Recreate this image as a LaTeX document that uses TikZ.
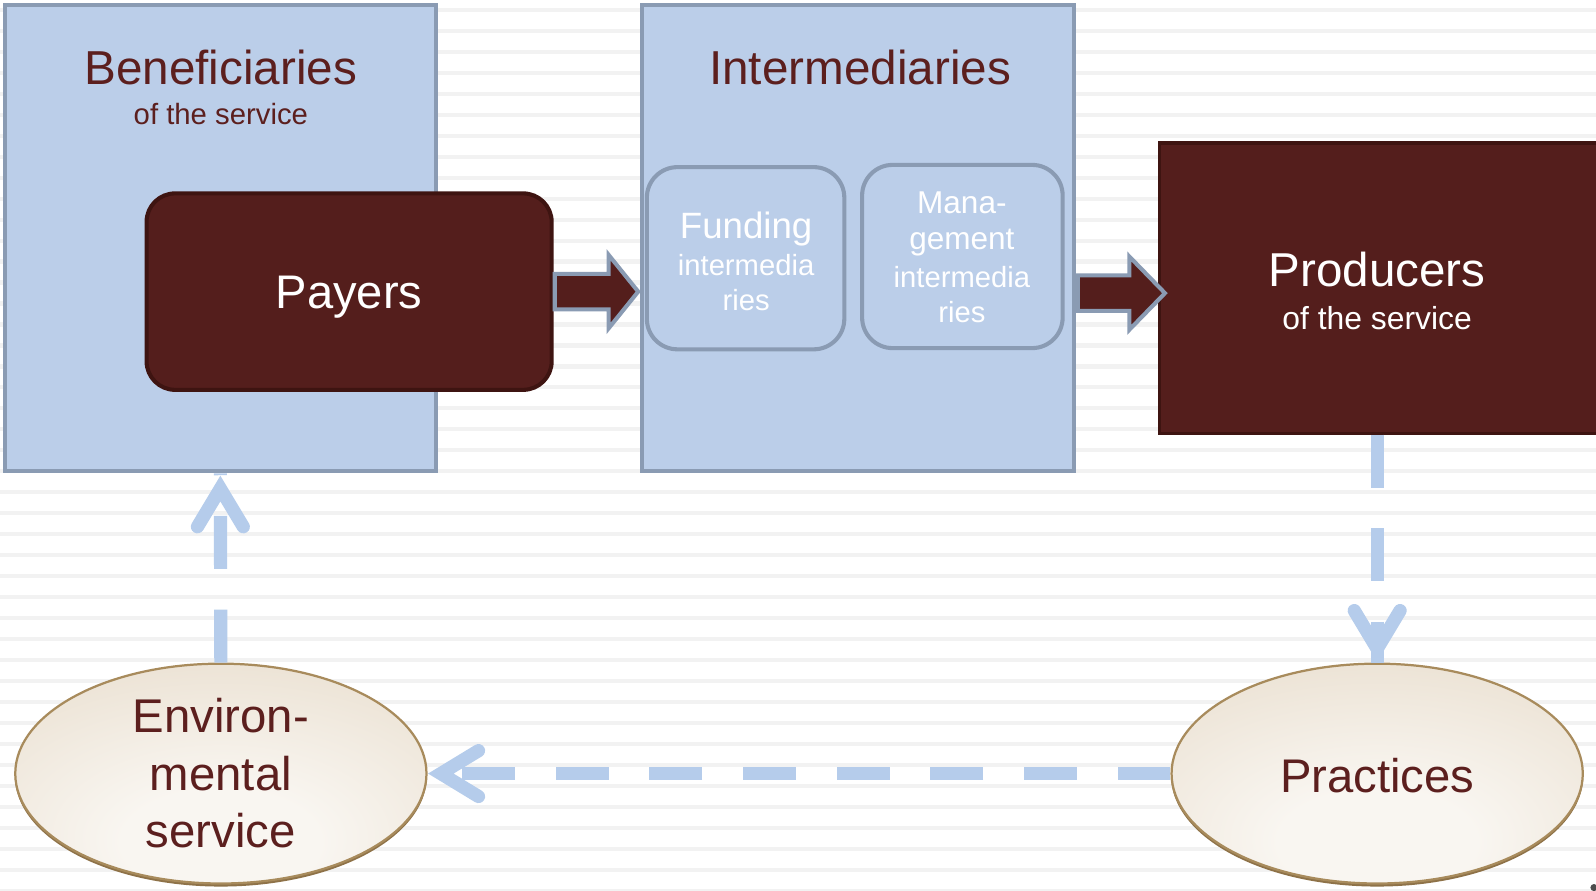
\documentclass[tikz,border=0pt]{standalone}
\usepackage{fontspec}
\setmainfont{Liberation Sans}
\usetikzlibrary{shapes.geometric,calc}
\definecolor{boxblue}{HTML}{BBCEE9}
\definecolor{boxedge}{HTML}{8A9BB3}
\definecolor{maroon}{HTML}{541E1C}
\definecolor{maroonedge}{HTML}{3E1411}
\definecolor{txtbrown}{HTML}{5C1F1E}
\definecolor{dashblue}{HTML}{B5CCEB}
\definecolor{stripe}{HTML}{F2F2F2}
\definecolor{ellin}{HTML}{F9F6F1}
\definecolor{ellout}{HTML}{E0D1BB}
\definecolor{elledge}{HTML}{A88B5C}
\definecolor{ellshadow}{HTML}{8E7248}
\pgfdeclareradialshading{ellshade}{\pgfpoint{0bp}{-18bp}}{color(0bp)=(ellin); color(12bp)=(ellin); color(60bp)=(ellout); color(90bp)=(ellout)}
\begin{document}
\begin{tikzpicture}[x=1pt,y=-1pt,
  bluebox/.style={rectangle, draw=boxedge, fill=boxblue, line width=4pt, inner sep=0pt},
  bluerbox/.style={bluebox, rounded corners=30pt},
  darkbox/.style={rectangle, draw=maroonedge, fill=maroon, line width=3pt, inner sep=0pt},
  payerbox/.style={rectangle, draw=maroonedge, fill=maroon, line width=4pt, inner sep=0pt, rounded corners=28pt},
  blockarrow/.style={fill=maroon, draw=boxedge, line width=4pt, line join=miter},
  ellnode/.style={ellipse, draw=elledge, line width=2.2pt, shading=ellshade, inner sep=0pt, minimum width=404pt, minimum height=216pt},
  ellshad/.style={draw=ellshadow, line width=3pt},
  dashconn/.style={draw=dashblue, line width=13pt, line cap=butt, dash pattern=on 52pt off 40pt},
  vhead/.style={draw=dashblue, line width=13pt, line cap=round, line join=miter, solid},
  txt/.style={anchor=base, inner sep=0pt, outer sep=0pt},
  brown/.style={text=txtbrown},
  wht/.style={text=white}
]
\useasboundingbox (0,0) rectangle (1568,875);
\fill[white] (0,0) rectangle (1568,875);
\foreach \k in {0,...,42}{
  \fill[stripe] (0,{9.5+20.62*\k-2}) rectangle (1568,{9.5+20.62*\k+2});
}

% main boxes
\node[bluebox, minimum width=423pt, minimum height=458pt] (ben) at (216.5,234) {};
\node[bluebox, minimum width=424pt, minimum height=458pt] (int) at (843,234) {};
\node[darkbox, minimum width=441pt, minimum height=285pt] (prod) at (1359.5,283) {};
\node[payerbox, minimum width=398pt, minimum height=193pt] (payers) at (343,286.5) {};
\node[bluerbox, minimum width=194pt, minimum height=179pt] (fund) at (732.5,253.7) {};
\node[bluerbox, minimum width=197pt, minimum height=180pt] (mgmt) at (945.5,252) {};

% block arrows
\draw[blockarrow] let \p1=(payers.east), \p2=(int.west) in
  (\x1+1pt,\y1+17.5pt) -- (\x2-31pt,\y1+17.5pt) -- (\x2-31pt,\y1+36pt) -- (\x2-2pt,\y1)
  -- (\x2-31pt,\y1-36pt) -- (\x2-31pt,\y1-17.5pt) -- (\x1+1pt,\y1-17.5pt) -- cycle;
\draw[blockarrow] let \p1=(int.east), \p2=(prod.west) in
  (\x1+2pt,\y2-5pt+17.5pt) -- (\x2-28pt,\y2-5pt+17.5pt) -- (\x2-28pt,\y2-5pt+36pt) -- (\x2+7pt,\y2-5pt)
  -- (\x2-28pt,\y2-5pt-36pt) -- (\x2-28pt,\y2-5pt-17.5pt) -- (\x1+2pt,\y2-5pt-17.5pt) -- cycle;

% ellipses (with a slight darker rim underneath)
\draw[ellshad] (217,762) ellipse [x radius=201, y radius=107.5];
\draw[ellshad] (1353,762) ellipse [x radius=201, y radius=107.5];
\node[ellnode] (env) at (217,760) {};
\node[ellnode] (prac) at (1353,760) {};

% dashed connectors
\draw[dashconn] (env.north) -- (ben.south);
\draw[vhead] ($(ben.south)+(-22.5,52.5)$) -- ($(ben.south)+(0,15)$) -- ($(ben.south)+(22.5,52.5)$);
\draw[dashconn] (prac.north |- prod.south) -- (prac.north);
\draw[vhead] ($(prac.north)+(-22.5,-51)$) -- ($(prac.north)+(0,-13.5)$) -- ($(prac.north)+(22.5,-51)$);
\draw[dashconn] (prac.west) -- (env.east);
\draw[vhead] ($(env.east)+(50,-22.5)$) -- ($(env.east)+(13,0)$) -- ($(env.east)+(50,22.5)$);

% texts
\node[txt, brown, font=\fontsize{46.8}{50}\selectfont] (benT) at (217,83) {Beneficiaries};
\node[txt, brown, font=\fontsize{28.8}{30}\selectfont] (benS) at (217,122) {of the service};
\node[txt, brown, font=\fontsize{46.8}{50}\selectfont] (intT) at (845,83) {Intermediaries};
\node[txt, wht, font=\fontsize{46.3}{50}\selectfont] (payT) at (343,303) {Payers};
\node[txt, wht, font=\fontsize{46.7}{50}\selectfont] (prodT) at (1353,281.5) {Producers};
\node[txt, wht, font=\fontsize{31.3}{34}\selectfont] (prodS) at (1353,323.5) {of the service};
\node[txt, wht, font=\fontsize{36}{40}\selectfont] (fundA) at (733,234) {Funding};
\node[txt, wht, font=\fontsize{28.7}{30}\selectfont] (fundB) at (733,271) {intermedia};
\node[txt, wht, font=\fontsize{28.7}{30}\selectfont] (fundC) at (733,305) {ries};
\node[txt, wht, font=\fontsize{31}{34}\selectfont] (mgmtA) at (945,209.5) {Mana-};
\node[txt, wht, font=\fontsize{31}{34}\selectfont] (mgmtB) at (945,245.5) {gement};
\node[txt, wht, font=\fontsize{28.7}{30}\selectfont] (mgmtC) at (945,282.5) {intermedia};
\node[txt, wht, font=\fontsize{28.7}{30}\selectfont] (mgmtD) at (945,317) {ries};
\node[txt, brown, font=\fontsize{46.5}{50}\selectfont] (envA) at (217,720) {Environ-};
\node[txt, brown, font=\fontsize{46.5}{50}\selectfont] (envB) at (217,777) {mental};
\node[txt, brown, font=\fontsize{46.5}{50}\selectfont] (envC) at (217,833) {service};
\node[txt, brown, font=\fontsize{46.4}{50}\selectfont] (pracT) at (1353,778.4) {Practices};

\fill[gray!60!black] (1566,872) circle (3.5);
\end{tikzpicture}
\end{document}
